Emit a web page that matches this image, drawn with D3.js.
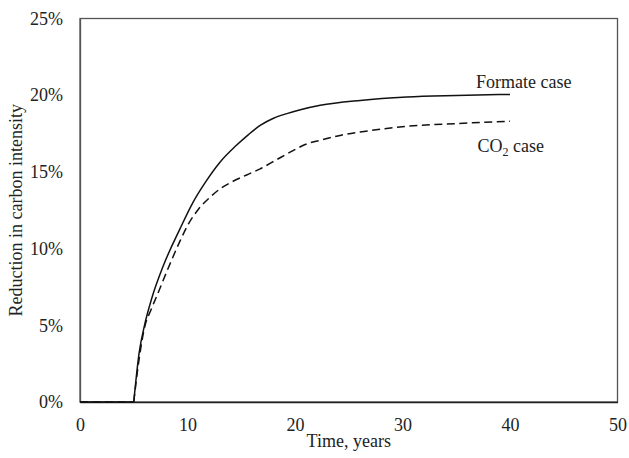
<!DOCTYPE html>
<html>
<head>
<meta charset="utf-8">
<script src="https://cdn.jsdelivr.net/npm/d3@7/dist/d3.min.js"></script>
<style>
  body { margin: 0; background: #fff; }
  svg { display: block; }
  text { font-family: "Liberation Serif", "DejaVu Serif", "Times New Roman", serif; fill: #222; }
</style>
</head>
<body>
<svg id="chart" width="629" height="458"></svg>
<script>
// Data (x in years, y in % reduction)
const formateX = [0, 5, 5.5, 6, 6.67, 7.76, 9.31, 10.5, 11.64, 13.04, 14.5, 15.7, 16.76, 18, 19.24, 20.5, 22.35, 26.07, 30.4, 35, 40];
const formateY = [0, 0, 3.2, 5.0, 6.75, 8.9, 11.3, 13.0, 14.3, 15.65, 16.7, 17.45, 18.03, 18.5, 18.8, 19.05, 19.34, 19.66, 19.88, 19.98, 20.05];
const co2X = [0, 5, 5.5, 6.02, 6.6, 7.14, 8.07, 9.31, 10.08, 11, 12.1, 13.04, 14, 15.5, 16.76, 18.3, 19.86, 21, 22.35, 24.2, 26.07, 30.4, 35, 40];
const co2Y = [0, 0, 2.8, 4.9, 6.0, 6.9, 8.5, 10.5, 11.6, 12.55, 13.35, 13.9, 14.3, 14.8, 15.2, 15.8, 16.4, 16.8, 17.06, 17.38, 17.6, 17.97, 18.15, 18.3];
const startYear = 5;
const xTicks = [0, 10, 20, 30, 40, 50];
const yTicks = [0, 5, 10, 15, 20, 25];
const seriesNames = ["Formate case", "CO2 case"];

const svg = d3.select("#chart");
const pL = 80, pR = 617.5, pT = 18.5, pB = 402;
const x = d3.scaleLinear().domain([0, 50]).range([pL, pR]);
const y = d3.scaleLinear().domain([0, 25]).range([pB, pT]);

// frame
svg.append("rect")
  .attr("x", pL).attr("y", pT)
  .attr("width", pR - pL).attr("height", pB - pT)
  .attr("fill", "none").attr("stroke", "#555").attr("stroke-width", 1.3);

// x axis
const xAxis = svg.append("g").attr("transform", `translate(0,${pB})`)
  .call(d3.axisBottom(x).tickValues(xTicks).tickSize(0).tickPadding(16).tickFormat(d3.format("d")));
xAxis.select(".domain").attr("stroke", "#222").attr("stroke-width", 1.5);
xAxis.selectAll("text").style("font-size", "18px").attr("fill", "#222");

// y axis
const yAxis = svg.append("g").attr("transform", `translate(${pL},0)`)
  .call(d3.axisLeft(y).tickValues(yTicks).tickSize(0).tickPadding(17).tickFormat(d => d + "%"));
yAxis.select(".domain").attr("stroke", "#555").attr("stroke-width", 1.3);
yAxis.selectAll("text").style("font-size", "18px").attr("fill", "#222");

// axis titles
svg.append("text")
  .attr("x", (pL + pR) / 2).attr("y", 447)
  .attr("text-anchor", "middle").style("font-size", "18px")
  .text("Time, years");
svg.append("text")
  .attr("transform", `translate(22,${(pT + pB) / 2}) rotate(-90)`)
  .attr("text-anchor", "middle").style("font-size", "18px")
  .text("Reduction in carbon intensity");

// lines: flat pre-start part drawn straight, rising part smoothed
const flat = d3.line().x(d => x(d[0])).y(d => y(d[1]));
const smooth = d3.line().x(d => x(d[0])).y(d => y(d[1])).curve(d3.curveMonotoneX);

function drawSeries(xs, ys, dash) {
  const pts = xs.map((v, i) => [v, ys[i]]);
  const pre = pts.filter(d => d[0] <= startYear);
  const post = pts.filter(d => d[0] >= startYear);
  const d = flat(pre) + smooth(post);
  const p = svg.append("path").attr("d", d).attr("fill", "none")
    .attr("stroke", "#111").attr("stroke-width", 1.5);
  if (dash) p.attr("stroke-dasharray", dash);
}
drawSeries(formateX, formateY, null);
drawSeries(co2X, co2Y, "8,4.5");

// labels
svg.append("text").attr("x", 476).attr("y", 87.5)
  .style("font-size", "18px").text(seriesNames[0]);
const co2Label = svg.append("text").attr("x", 477.5).attr("y", 151.5).style("font-size", "18px");
co2Label.append("tspan").text("CO");
co2Label.append("tspan").attr("dy", 4).style("font-size", "12px").text("2");
co2Label.append("tspan").attr("dy", -4).text(" case");
</script>
</body>
</html>
